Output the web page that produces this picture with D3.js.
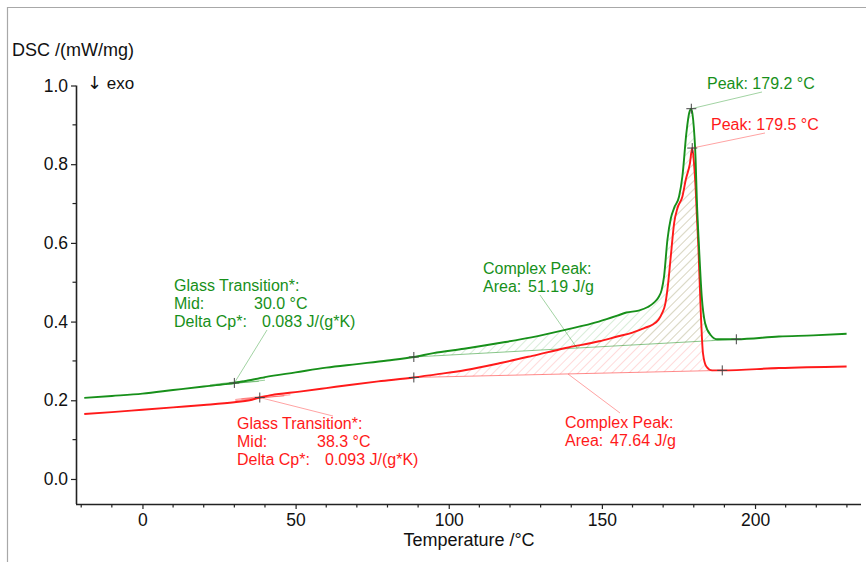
<!DOCTYPE html>
<html>
<head>
<meta charset="utf-8">
<script src="https://d3js.org/d3.v7.min.js"></script>
<style>
  body { margin: 0; background: #fff; }
  text { font-family: "Liberation Sans", Arial, sans-serif; }
</style>
</head>
<body>
<div id="chart"></div>
<script>
// green run (first sample) - temperature /°C and DSC /(mW/mg)
var greenT = [-19, -10, 0, 10, 20, 27, 30, 33, 40, 50, 60, 70, 80, 88.6, 95, 105, 116, 127, 138, 149, 155, 158, 162, 165, 167, 168.5, 169.5, 170.3, 171.4, 172.5, 173.6, 175.2, 176.3, 177.6, 178.5, 179.2, 179.8, 180.6, 181.0, 181.7, 182.6, 183.7, 185.5, 187.7, 193.9, 207.8, 219, 229.9];
var greenDSC = [0.206, 0.211, 0.217, 0.226, 0.235, 0.241, 0.244, 0.248, 0.259, 0.271, 0.283, 0.292, 0.301, 0.310, 0.320, 0.331, 0.345, 0.360, 0.379, 0.400, 0.415, 0.423, 0.428, 0.437, 0.448, 0.462, 0.480, 0.515, 0.608, 0.662, 0.689, 0.718, 0.770, 0.880, 0.930, 0.941, 0.913, 0.812, 0.710, 0.591, 0.464, 0.396, 0.366, 0.355, 0.355, 0.362, 0.365, 0.369];

// red run (second sample)
var redT = [-19, -10, 0, 10, 20, 30, 35, 38.3, 42, 51.3, 60, 67.6, 77, 88.6, 97, 105.6, 116.5, 127.3, 138.2, 149.1, 155, 160, 164, 166.5, 168.5, 169.7, 170.7, 171.4, 172.5, 173.6, 174.7, 176.3, 177.4, 178.7, 179.5, 180.1, 180.6, 181.0, 181.5, 182.3, 183.0, 184.1, 186.0, 189.3, 207.8, 229.9];
var redDSC = [0.165, 0.170, 0.176, 0.182, 0.188, 0.195, 0.200, 0.207, 0.213, 0.222, 0.231, 0.239, 0.248, 0.258, 0.267, 0.277, 0.294, 0.313, 0.333, 0.350, 0.362, 0.372, 0.384, 0.392, 0.405, 0.422, 0.445, 0.481, 0.566, 0.651, 0.689, 0.718, 0.761, 0.800, 0.841, 0.800, 0.740, 0.670, 0.591, 0.422, 0.320, 0.286, 0.276, 0.276, 0.282, 0.286];

// evaluation results: glass mid, peak start, peak end, peak
var greenEval = { tg: 30.0, start: 88.6, end: 193.9, peak: 179.2 };
var redEval = { tg: 38.3, start: 88.6, end: 189.3, peak: 179.5 };

var xTicks = [0, 50, 100, 150, 200];
var yTicks = [0.0, 0.2, 0.4, 0.6, 0.8, 1.0];

var GREEN = "#17901a", RED = "#ff1a1a";

var svg = d3.select("#chart").append("svg")
    .attr("width", 866)
    .attr("height", 562);

// outer frame (top and left only are visible)
svg.append("path")
    .attr("d", "M7.5,562 V7.5 H866")
    .attr("fill", "none")
    .attr("stroke", "#a8a8a8")
    .attr("stroke-width", 1.2);

var x = d3.scaleLinear().domain([-21.7, 234.6]).range([76, 861]);
var y = d3.scaleLinear().domain([-0.0636, 1.0]).range([504, 85.5]);

function pts(T, V) { return T.map(function (t, i) { return [t, V[i]]; }); }
function valAt(T, V, t) {
    var i = T.indexOf(t);
    if (i >= 0) return V[i];
    return d3.scaleLinear().domain(T).range(V)(t);
}

// hatch patterns (opaque light colours, so the green one covers the red one)
var defs = svg.append("defs");
function hatch(id, col) {
    var p = defs.append("pattern")
        .attr("id", id)
        .attr("patternUnits", "userSpaceOnUse")
        .attr("width", 6).attr("height", 6)
        .attr("patternTransform", "rotate(45)");
    p.append("line")
        .attr("x1", 0).attr("y1", 0).attr("x2", 0).attr("y2", 6)
        .attr("stroke", col).attr("stroke-width", 1);
}
hatch("hg", "#b4dcb4");
hatch("hr", "#ffb8b8");

// axes
var xAxis = d3.axisBottom(x).tickValues(xTicks).tickSize(5).tickPadding(5).tickFormat(d3.format("d"));
var yAxis = d3.axisLeft(y).tickValues(yTicks).tickSize(5).tickPadding(3).tickFormat(d3.format(".1f"));

var gx = svg.append("g").attr("transform", "translate(0,504)").call(xAxis);
var gy = svg.append("g").attr("transform", "translate(76,0)").call(yAxis);
[gx, gy].forEach(function (g) {
    g.select(".domain").attr("stroke", "#222").attr("stroke-width", 1.6);
    g.selectAll(".tick line").attr("stroke", "#222").attr("stroke-width", 1.2);
    g.selectAll("text").attr("font-size", 17.5).attr("fill", "#111")
        .style("font-family", "'Liberation Sans', Arial, sans-serif");
});
gx.select(".domain").attr("d", "M76,0.5 H861");
gy.select(".domain").attr("d", "M0.5,85.5 V504");

// minor ticks
svg.append("g").selectAll("line")
    .data(d3.range(-20, 231, 10).filter(function (d) { return d % 50 !== 0; }))
    .join("line")
    .attr("x1", function (d) { return x(d); }).attr("x2", function (d) { return x(d); })
    .attr("y1", 504).attr("y2", 507.5)
    .attr("stroke", "#222").attr("stroke-width", 1.2);
svg.append("g").selectAll("line")
    .data([0.1, 0.3, 0.5, 0.7, 0.9])
    .join("line")
    .attr("y1", function (d) { return y(d); }).attr("y2", function (d) { return y(d); })
    .attr("x1", 72.5).attr("x2", 76)
    .attr("stroke", "#222").attr("stroke-width", 1.2);

// axis titles
svg.append("text").attr("x", 12).attr("y", 56).attr("font-size", 18).attr("fill", "#111")
    .text("DSC /(mW/mg)");
var exo = svg.append("text").attr("x", 87).attr("y", 89).attr("font-size", 17).attr("fill", "#111");
exo.append("tspan").style("font-family", "'DejaVu Sans', sans-serif").attr("font-size", 18).text("\u2193");
exo.append("tspan").text(" exo");
svg.append("text").attr("x", 469).attr("y", 546).attr("font-size", 18).attr("fill", "#111")
    .attr("text-anchor", "middle").text("Temperature /\u00b0C");

var line = d3.line().x(function (d) { return x(d[0]); }).y(function (d) { return y(d[1]); })
    .curve(d3.curveMonotoneX);

// peak area hatch between curve and linear baseline
function peakArea(T, V, ev, pat, col) {
    var v0 = valAt(T, V, ev.start), v1 = valAt(T, V, ev.end);
    var base = d3.scaleLinear().domain([ev.start, ev.end]).range([v0, v1]);
    var seg = pts(T, V).filter(function (d) { return d[0] >= ev.start && d[0] <= ev.end; });
    var area = d3.area()
        .x(function (d) { return x(d[0]); })
        .y1(function (d) { return y(d[1]); })
        .y0(function (d) { return y(base(d[0])); })
        .curve(d3.curveMonotoneX);
    svg.append("path").attr("d", area(seg)).attr("fill", "url(#" + pat + ")");
    svg.append("line")
        .attr("x1", x(ev.start)).attr("y1", y(v0))
        .attr("x2", x(ev.end)).attr("y2", y(v1))
        .attr("stroke", col).attr("stroke-opacity", 0.5).attr("stroke-width", 1);
}
peakArea(redT, redDSC, redEval, "hr", RED);
peakArea(greenT, greenDSC, greenEval, "hg", GREEN);

// glass transition tangents
function tangents(T, V, tg, col) {
    var v = valAt(T, V, tg);
    var segs = [[[tg - 8, v - 0.008], [tg + 10, v + 0.007]], [[tg - 8, v - 0.005], [tg + 10, v + 0.012]], [[tg - 6, v - 0.004], [tg + 8, v + 0.004]]];
    segs.forEach(function (s) {
        svg.append("line")
            .attr("x1", x(s[0][0])).attr("y1", y(s[0][1]))
            .attr("x2", x(s[1][0])).attr("y2", y(s[1][1]))
            .attr("stroke", col).attr("stroke-opacity", 0.55).attr("stroke-width", 0.8);
    });
}
tangents(greenT, greenDSC, greenEval.tg, GREEN);
tangents(redT, redDSC, redEval.tg, RED);

// curves
svg.append("path").attr("d", line(pts(redT, redDSC)))
    .attr("fill", "none").attr("stroke", RED).attr("stroke-width", 1.9);
svg.append("path").attr("d", line(pts(greenT, greenDSC)))
    .attr("fill", "none").attr("stroke", GREEN).attr("stroke-width", 1.9);

// leader lines
function leader(T, V, t, tx, ty, col) {
    svg.append("line")
        .attr("x1", x(t)).attr("y1", y(valAt(T, V, t)))
        .attr("x2", tx).attr("y2", ty)
        .attr("stroke", col).attr("stroke-opacity", 0.4).attr("stroke-width", 1);
}
leader(greenT, greenDSC, greenEval.peak, 762, 92, GREEN);
leader(redT, redDSC, redEval.peak, 765, 133, RED);
leader(greenT, greenDSC, greenEval.tg, 267, 330, GREEN);
leader(redT, redDSC, redEval.tg, 333, 416, RED);
svg.append("line").attr("x1", 540).attr("y1", 295).attr("x2", 577).attr("y2", 348)
    .attr("stroke", GREEN).attr("stroke-opacity", 0.4);
svg.append("line").attr("x1", 568).attr("y1", 374).attr("x2", 620).attr("y2", 413)
    .attr("stroke", RED).attr("stroke-opacity", 0.4);

// cross markers
function cross(T, V, t) {
    var cx = x(t), cy = y(valAt(T, V, t));
    svg.append("path")
        .attr("d", "M" + (cx - 5) + "," + cy + "H" + (cx + 5) + "M" + cx + "," + (cy - 5) + "V" + (cy + 5))
        .attr("stroke", "#444").attr("stroke-width", 1);
}
[greenEval.tg, greenEval.start, greenEval.end, greenEval.peak].forEach(function (t) { cross(greenT, greenDSC, t); });
[redEval.tg, redEval.start, redEval.end, redEval.peak].forEach(function (t) { cross(redT, redDSC, t); });

// annotation texts
function label(lines, x0, y0, col) {
    lines.forEach(function (l, i) {
        l.forEach(function (part) {
            svg.append("text")
                .attr("x", x0 + part[0]).attr("y", y0 + i * 18)
                .attr("font-size", 16).attr("fill", col)
                .style("white-space", "pre")
                .text(part[1]);
        });
    });
}
label([[[0, "Peak: " + greenEval.peak.toFixed(1) + " \u00b0C"]]], 707, 89, GREEN);
label([[[0, "Peak: " + redEval.peak.toFixed(1) + " \u00b0C"]]], 711, 130, RED);
label([[[0, "Glass Transition*:"]], [[0, "Mid:"], [80, greenEval.tg.toFixed(1) + " \u00b0C"]], [[0, "Delta Cp*:"], [88, "0.083 J/(g*K)"]]], 174, 291, GREEN);
label([[[0, "Glass Transition*:"]], [[0, "Mid:"], [80, redEval.tg.toFixed(1) + " \u00b0C"]], [[0, "Delta Cp*:"], [88, "0.093 J/(g*K)"]]], 237, 429, RED);
label([[[0, "Complex Peak:"]], [[0, "Area:"], [45, "51.19 J/g"]]], 483, 274, GREEN);
label([[[0, "Complex Peak:"]], [[0, "Area:"], [45, "47.64 J/g"]]], 565, 428, RED);
</script>
</body>
</html>
